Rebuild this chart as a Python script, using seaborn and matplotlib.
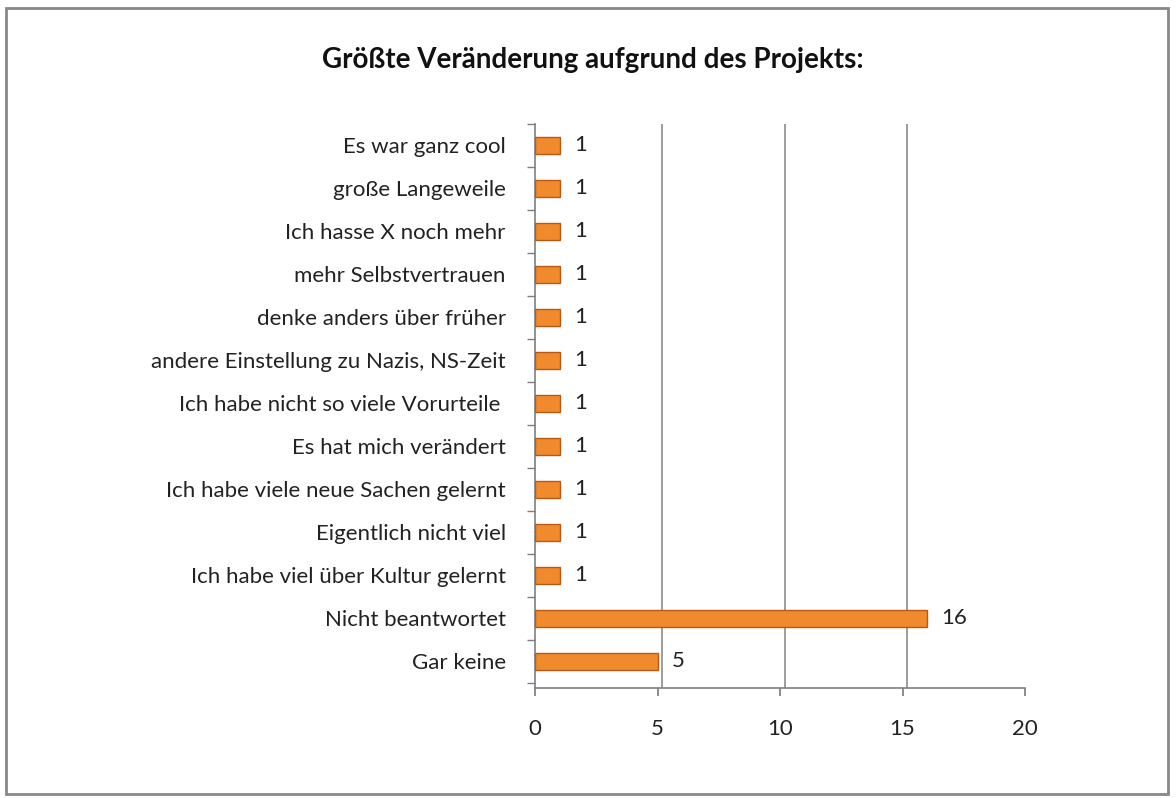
import matplotlib
matplotlib.use("Agg")
import matplotlib.pyplot as plt
import matplotlib.patches as mpatches
import pandas as pd
import seaborn as sns

categories = [
    "Es war ganz cool",
    "große Langeweile",
    "Ich hasse X noch mehr",
    "mehr Selbstvertrauen",
    "denke anders über früher",
    "andere Einstellung zu Nazis, NS-Zeit",
    "Ich habe nicht so viele Vorurteile ",
    "Es hat mich verändert",
    "Ich habe viele neue Sachen gelernt",
    "Eigentlich nicht viel",
    "Ich habe viel über Kultur gelernt",
    "Nicht beantwortet",
    "Gar keine",
]
counts = [1, 1, 1, 1, 1, 1, 1, 1, 1, 1, 1, 16, 5]
x_ticks = [0, 5, 10, 15, 20]
title = "Größte Veränderung aufgrund des Projekts:"

df = pd.DataFrame({"Antwort": categories, "Anzahl": counts})

sns.set_theme(style="white")
plt.rcParams["font.family"] = ["Lato", "DejaVu Sans"]

fig = plt.figure(figsize=(11.76, 7.98), dpi=100)
ax = fig.add_axes([535 / 1176, 1 - 688 / 798, 490 / 1176, (688 - 124) / 798])

sns.barplot(data=df, x="Anzahl", y="Antwort", color="#F08A2C", width=0.38,
            edgecolor="#B85A14", linewidth=1.0, saturation=1, ax=ax, zorder=3)

# gridlines (back wall)
for xv in x_ticks[1:]:
    ax.axvline(xv + 0.2, color="#8C8C8C", lw=1.2, zorder=1)

for p, v in zip(ax.patches, counts):
    ax.text(p.get_width() + 0.6, p.get_y() + p.get_height() / 2, str(v),
            va="center", ha="left", fontsize=16, color="#222222")

ax.set_xlim(0, 20)
ax.set_ylim(len(categories) - 0.5 + 0.12, -0.5)
ax.set_xticks(x_ticks)
ax.set_xticklabels([str(t) for t in x_ticks], fontsize=16, color="#222222")
ax.tick_params(axis="x", pad=16, length=6, direction="out", color="#7F7F7F", bottom=True)
ax.tick_params(axis="y", length=0, pad=21, labelsize=16, labelcolor="#222222")
ax.set_yticks([i + 0.5 for i in range(-1, len(categories))], minor=True)
ax.tick_params(axis="y", which="minor", length=6, left=True, color="#7F7F7F")
ax.set_xlabel("")
ax.set_ylabel("")

for side in ["top", "right"]:
    ax.spines[side].set_visible(False)
for side in ["left", "bottom"]:
    ax.spines[side].set_color("#7F7F7F")
    ax.spines[side].set_linewidth(1.2)

fig.text(593 / 1176, 1 - 60 / 798, title, ha="center", va="center",
         fontsize=20, fontweight="bold", color="#111111")

fig.patches.append(mpatches.Rectangle((6 / 1176, 4 / 798), 1162 / 1176, 786 / 798,
                                      transform=fig.transFigure, fill=False,
                                      edgecolor="#888888", lw=2))

fig.savefig("out.png", dpi=100)
